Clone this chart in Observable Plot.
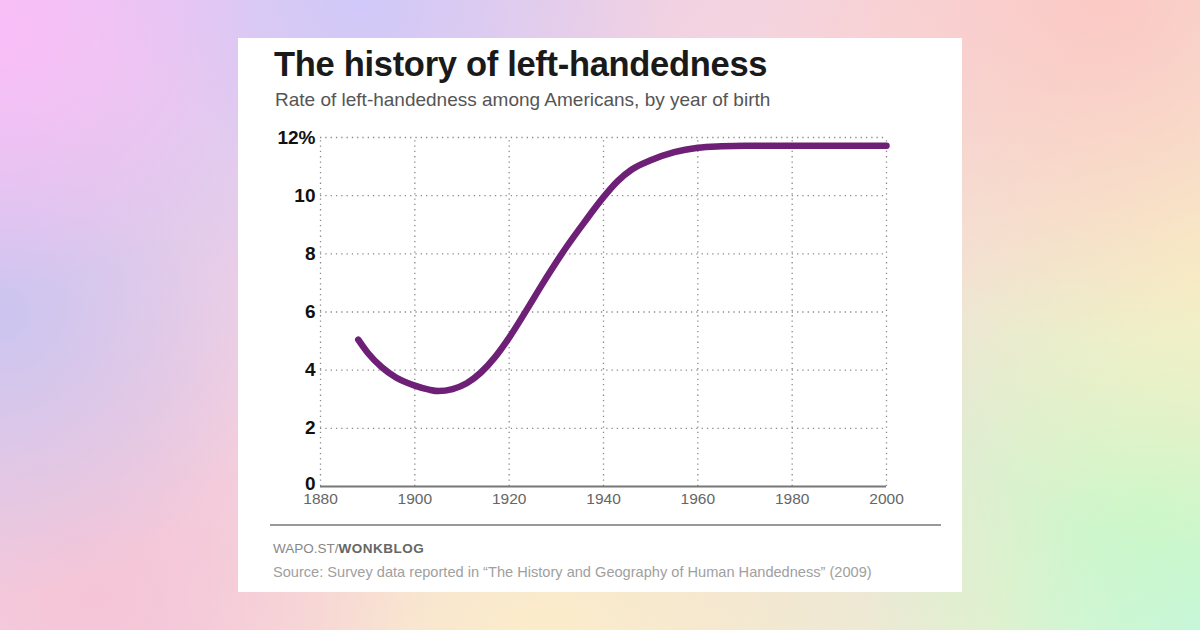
<!DOCTYPE html>
<html>
<head>
<meta charset="utf-8">
<script src="https://cdn.jsdelivr.net/npm/d3@7"></script>
<script src="https://cdn.jsdelivr.net/npm/@observablehq/plot@0.6"></script>
<style>
  html, body { margin: 0; padding: 0; }
  body {
    width: 1200px; height: 630px; overflow: hidden; position: relative;
    background:
      radial-gradient(circle at 0% 5%, rgba(250,190,248,0.95) 0, rgba(250,190,248,0) 260px),
      radial-gradient(circle at 30% 0%, rgba(205,200,250,0.9) 0, rgba(205,200,250,0) 320px),
      radial-gradient(circle at 0% 50%, rgba(200,196,240,0.9) 0, rgba(200,196,240,0) 280px),
      radial-gradient(circle at 8% 95%, rgba(245,196,214,0.95) 0, rgba(245,196,214,0) 320px),
      radial-gradient(circle at 45% 105%, rgba(252,238,200,0.95) 0, rgba(252,238,200,0) 360px),
      radial-gradient(circle at 92% 0%, rgba(252,200,196,0.95) 0, rgba(252,200,196,0) 340px),
      radial-gradient(circle at 100% 40%, rgba(248,240,196,0.95) 0, rgba(248,240,196,0) 300px),
      radial-gradient(circle at 96% 80%, rgba(200,248,200,0.95) 0, rgba(200,248,200,0) 300px),
      radial-gradient(circle at 100% 100%, rgba(196,246,236,1) 0, rgba(196,246,236,0) 200px),
      linear-gradient(135deg, #e6c6f0 0%, #f6d6dc 50%, #e6f4d0 100%);
    font-family: "Liberation Sans", sans-serif;
  }
  #card {
    position: absolute; left: 238px; top: 38px; width: 724px; height: 554px;
    background: #fff;
  }
  #title {
    position: absolute; left: 36px; top: 7px; margin: 0;
    font-family: "Liberation Sans", sans-serif;
    font-weight: bold; font-size: 34.5px; color: #1a1a1a; letter-spacing: -0.3px;
    white-space: nowrap;
  }
  #subtitle {
    position: absolute; left: 37px; top: 51px; margin: 0;
    font-family: "Liberation Sans", sans-serif;
    font-size: 19px; color: #555; white-space: nowrap;
  }
  #chart { position: absolute; left: 0; top: 82px; }
  #rule {
    position: absolute; left: 32px; top: 486px; width: 671px; height: 0;
    border-top: 2px solid #999;
  }
  #brand {
    position: absolute; left: 35px; top: 503px; margin: 0;
    font-family: "Liberation Sans", sans-serif;
    font-size: 13.5px; color: #888; white-space: nowrap;
  }
  #brand b { color: #666; letter-spacing: 0.5px; }
  #source {
    position: absolute; left: 35px; top: 526px; margin: 0;
    font-family: "Liberation Sans", sans-serif;
    font-size: 14.6px; color: #a0a0a0; white-space: nowrap;
  }
</style>
</head>
<body>
<div id="card">
  <div id="title">The history of left-handedness</div>
  <div id="subtitle">Rate of left-handedness among Americans, by year of birth</div>
  <div id="chart"></div>
  <div id="rule"></div>
  <div id="brand">WAPO.ST/<b>WONKBLOG</b></div>
  <div id="source">Source: Survey data reported in “The History and Geography of Human Handedness” (2009)</div>
</div>
<script>
const years = [1888, 1890, 1893, 1896, 1900, 1903, 1905, 1908, 1911, 1914, 1917, 1920, 1924, 1927, 1932, 1936, 1940, 1943, 1946, 1950, 1955, 1960, 1965, 1970, 1980, 1990, 2000];
const rates = [5.05, 4.6, 4.1, 3.75, 3.47, 3.33, 3.28, 3.35, 3.55, 3.92, 4.45, 5.12, 6.15, 6.95, 8.2, 9.1, 9.95, 10.5, 10.9, 11.22, 11.5, 11.65, 11.7, 11.72, 11.72, 11.72, 11.72];
const xTicks = [1880, 1900, 1920, 1940, 1960, 1980, 2000];
const yTicks = [0, 2, 4, 6, 8, 10, 12];
const yTickLabels = ["0", "2", "4", "6", "8", "10", "12%"];

const data = years.map((y, i) => ({year: y, rate: rates[i]}));
const yLabel = d => yTickLabels[yTicks.indexOf(d)];
const yAxisStyle = {tickSize: 0, tickPadding: 5, fontSize: 19, fontWeight: "bold", fill: "#111", tickFormat: yLabel, label: null};

const chart = Plot.plot({
  width: 724,
  height: 395,
  marginLeft: 82,
  marginRight: 76,
  marginTop: 17,
  marginBottom: 29,
  style: {background: "transparent", fontFamily: "'Liberation Sans', sans-serif"},
  x: {domain: [1880, 2000]},
  y: {domain: [0, 12]},
  marks: [
    Plot.ruleX(xTicks, {y1: 0, y2: 12, stroke: "#8a8a8a", strokeWidth: 1.3, strokeDasharray: "1.3,4"}),
    Plot.ruleY(yTicks.filter(d => d > 0), {x1: 1880, x2: 2000, stroke: "#8a8a8a", strokeWidth: 1.3, strokeDasharray: "1.3,4"}),
    Plot.ruleY([0], {x1: 1880, x2: 2000, stroke: "#777", strokeWidth: 2}),
    Plot.line(data, {x: "year", y: "rate", curve: "monotone-x", stroke: "#6e1f76", strokeWidth: 6.5, strokeLinecap: "round", strokeLinejoin: "round"}),
    Plot.axisY(yTicks.filter(d => d > 0), yAxisStyle),
    Plot.axisY([0], {...yAxisStyle, dy: -3}),
    Plot.axisX(xTicks, {tickSize: 0, tickPadding: 6, fontSize: 15.5, fill: "#666", tickFormat: d => String(d), label: null})
  ]
});
document.getElementById("chart").appendChild(chart);
</script>
</body>
</html>
